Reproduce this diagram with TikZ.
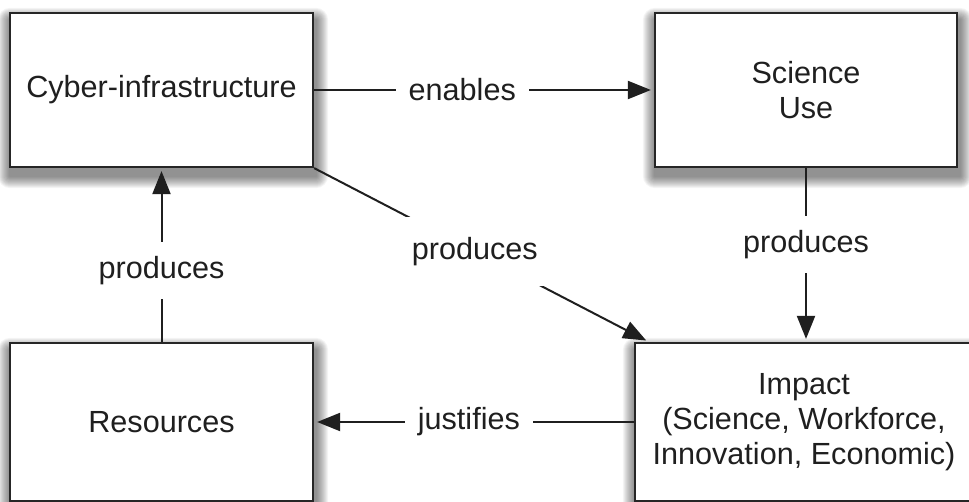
\documentclass[tikz,border=0pt]{standalone}
\usepackage{fontspec}
\setmainfont{Liberation Sans}
\usetikzlibrary{arrows.meta,backgrounds}
\begin{document}
\begin{tikzpicture}[x=1pt,y=-1pt,
  box/.style={draw=black!85, line width=2.2pt, fill=white, align=center,
    font=\fontsize{30.6}{35}\selectfont, text=black!88},
  conn/.style={line width=2pt, draw=black!88, shorten >=3pt,
    -{Triangle[length=23pt,width=18pt]}},
  lbl/.style={fill=white, inner xsep=13pt, inner ysep=14pt,
    font=\fontsize{30.6}{35}\selectfont, text=black!88},
  shade/.style={fill=black, opacity=0.045}
]
\useasboundingbox (0,0) rectangle (969,502);
\node[box, minimum width=303pt, minimum height=154pt] (cyber) at (161.5,90) {Cyber-infrastructure};
\node[box, minimum width=302pt, minimum height=154pt] (sci) at (806,90) {Science\\Use};
\node[box, minimum width=303pt, minimum height=158pt] (res) at (161.5,422) {Resources};
\node[box, minimum width=338pt, minimum height=158pt] (imp) at (804,422) {Impact\\(Science, Workforce,\\Innovation, Economic)};
\draw[conn] (cyber.east) -- node[lbl, pos=0.436] {enables} (sci.west);
\draw[conn] (cyber.south east) -- node[lbl, pos=0.48, inner xsep=6pt, inner ysep=20pt] {produces} ([xshift=15pt]imp.north west);
\draw[conn] (sci.south) -- node[lbl, pos=0.44] {produces} (sci.south |- imp.north);
\draw[conn] (res.north) -- node[lbl, pos=0.41] {produces} (cyber.south);
\draw[conn] (imp.west) -- node[lbl, pos=0.516] {justifies} (res.east);
\begin{scope}[on background layer]
  \fill[white] (0,0) rectangle (969,502);
  \foreach \n in {cyber,sci,res,imp}{
    \foreach \k in {1,...,12}{
      \fill[shade, rounded corners=\k pt]
        ([shift={(-\k pt+1pt,-\k pt-8pt)}]\n.south west) rectangle
        ([shift={(\k pt+2pt,\k pt-8pt)}]\n.north east);
    }
  }
\end{scope}
\end{tikzpicture}
\end{document}
